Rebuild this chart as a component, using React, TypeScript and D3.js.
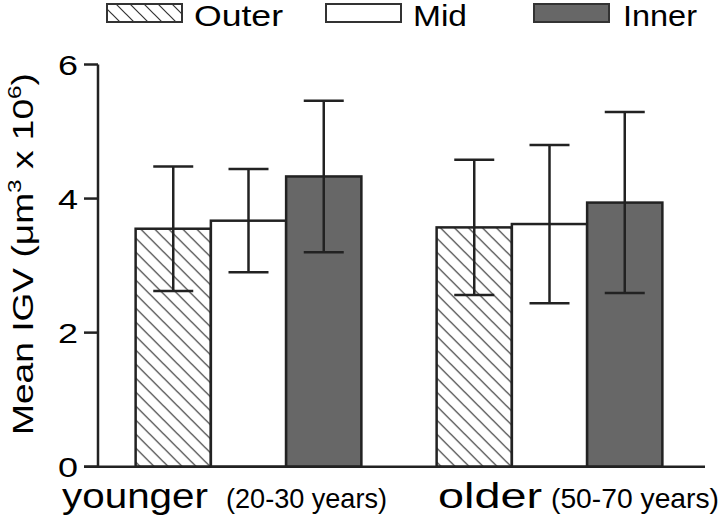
import React from "react";
import * as d3 from "d3";

const groups = ["younger", "older"];
const groupSub = ["(20-30 years)", "(50-70 years)"];
const seriesNames = ["Outer", "Mid", "Inner"];
const outerMean = [3.55, 3.57];
const midMean = [3.67, 3.62];
const innerMean = [4.33, 3.94];
const outerSD = [0.93, 1.01];
const midSD = [0.77, 1.18];
const innerSD = [1.13, 1.35];
const yTicks = [0, 2, 4, 6];

const W = 720;
const H = 520;
const FONT = "'Liberation Sans', Arial, Helvetica, sans-serif";
const INK = "#222";
const DARK = "#676767";

export default function App() {
  const means = [outerMean, midMean, innerMean];
  const sds = [outerSD, midSD, innerSD];
  const y = d3.scaleLinear().domain([0, 6]).range([466.7, 64.5]);
  const x0 = d3.scaleBand<string>().domain(groups).range([98, 700]).paddingInner(0.25).paddingOuter(0.125);
  const x1 = d3.scaleBand<string>().domain(seriesNames).range([0, x0.bandwidth()]).padding(0);
  const fills = ["url(#hatch)", "#ffffff", DARK];
  const capW = 40;

  const legendX = [107, 326, 534];
  const legendTextX = [194, 413, 623];
  const legendTextW = [89, 54, 74];

  const groupLabelX = [62, 438];
  const groupLabelW = [146, 104];
  const subLabelX = [226, 551];
  const subLabelW = [161, 168];

  return (
    <svg width={W} height={H} style={{ position: "absolute", left: 0, top: 0, background: "#fff" }} fontFamily={FONT}>
      <defs>
        <pattern id="hatch" patternUnits="userSpaceOnUse" width={14} height={14}>
          <rect width={14} height={14} fill="#fff" />
          <path d="M0,0 L14,14 M-7,7 L7,21 M7,-7 L21,7" stroke="#333" strokeWidth={1.2} />
        </pattern>
      </defs>
      <rect width={W} height={H} fill="#fff" />

      {/* legend */}
      {seriesNames.map((s, i) => (
        <g key={s}>
          <rect x={legendX[i]} y={4} width={75} height={18} fill={fills[i]} stroke="#333" strokeWidth={2} />
          <text x={legendTextX[i]} y={26} fontSize={30} fill="#000" textLength={legendTextW[i]} lengthAdjust="spacingAndGlyphs">{s}</text>
        </g>
      ))}

      {/* bars */}
      {groups.map((g, gi) => (
        <g key={g} transform={`translate(${x0(g)},0)`}>
          {seriesNames.map((s, si) => (
            <rect key={s} x={x1(s)} y={y(means[si][gi])} width={x1.bandwidth()} height={y(0) - y(means[si][gi])}
              fill={fills[si]} stroke={INK} strokeWidth={2.5} />
          ))}
          {seriesNames.map((s, si) => {
            const cx = (x1(s) as number) + x1.bandwidth() / 2;
            const hi = y(means[si][gi] + sds[si][gi]);
            const lo = y(means[si][gi] - sds[si][gi]);
            return (
              <g key={s + "e"} stroke={INK} strokeWidth={2.5}>
                <line x1={cx} x2={cx} y1={hi} y2={lo} />
                <line x1={cx - capW / 2} x2={cx + capW / 2} y1={hi} y2={hi} />
                <line x1={cx - capW / 2} x2={cx + capW / 2} y1={lo} y2={lo} />
              </g>
            );
          })}
        </g>
      ))}

      {/* axes */}
      <line x1={98} x2={98} y1={y(6)} y2={y(0)} stroke={INK} strokeWidth={2.5} />
      <line x1={84} x2={705} y1={y(0)} y2={y(0)} stroke={INK} strokeWidth={2.5} />
      {yTicks.map((t) => (
        <g key={t}>
          <line x1={84} x2={98} y1={y(t)} y2={y(t)} stroke={INK} strokeWidth={2.5} />
          <text x={78} y={y(t) + 10} textAnchor="end" fontSize={28} fill="#000" textLength={20} lengthAdjust="spacingAndGlyphs">{t}</text>
        </g>
      ))}

      {/* y label */}
      <text transform="translate(33,254) rotate(-90)" textAnchor="middle" fontSize={29} fill="#000" textLength={362} lengthAdjust="spacingAndGlyphs">
        Mean IGV (μm<tspan fontSize={19} dy={-12}>3</tspan><tspan dy={12}> x 10</tspan><tspan fontSize={19} dy={-12}>6</tspan><tspan dy={12}>)</tspan>
      </text>

      {/* x labels */}
      {groups.map((g, gi) => (
        <g key={g}>
          <text x={groupLabelX[gi]} y={508} fontSize={35} fill="#000" textLength={groupLabelW[gi]} lengthAdjust="spacingAndGlyphs">{g}</text>
          <text x={subLabelX[gi]} y={508} fontSize={28} fill="#000" textLength={subLabelW[gi]} lengthAdjust="spacingAndGlyphs">{groupSub[gi]}</text>
        </g>
      ))}
    </svg>
  );
}
